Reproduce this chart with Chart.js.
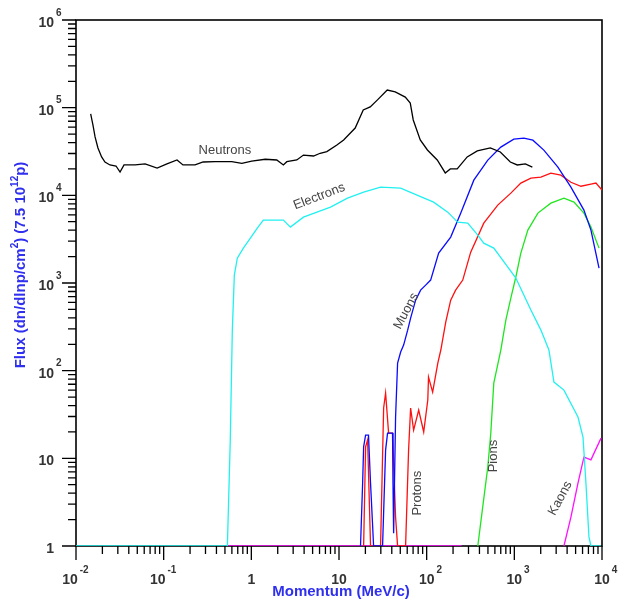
<!DOCTYPE html>
<html>
<head>
<meta charset="utf-8">
<script src="https://cdn.jsdelivr.net/npm/chart.js@4/dist/chart.umd.min.js"></script>
<style>
  body { margin: 0; background: #fff; }
</style>
</head>
<body>
<canvas id="myChart" width="624" height="608"></canvas>
<script>
// momentum in MeV/c, flux per 7.5e12 protons
var neutronP = [0.0147, 0.0156, 0.0165, 0.0178, 0.0196, 0.0214, 0.0244, 0.0286, 0.0318, 0.0353, 0.0472, 0.0614, 0.0842, 0.109, 0.142, 0.166, 0.228, 0.282, 0.386, 0.598, 0.779, 1.01, 1.44, 1.95, 2.32, 2.54, 3.30, 3.93, 5.12, 6.10, 7.27, 9.46, 11.3, 13.4, 15.3, 18.9, 22.7, 27.3, 35.5, 43.8, 57.0, 65.0, 70.3, 84.5, 102, 132, 163, 186, 223, 290, 378, 532, 692, 900, 1080, 1335, 1605];
var neutronFlux = [84800, 63500, 46400, 34700, 27400, 24000, 22200, 21600, 18400, 22200, 22200, 22800, 20500, 22800, 25300, 22200, 22200, 24000, 24200, 24200, 23200, 24600, 25800, 25300, 22200, 24200, 25300, 28800, 28100, 30200, 31500, 37500, 42800, 51000, 58600, 94200, 102000, 122000, 159000, 151000, 132000, 113000, 72400, 42800, 32900, 25300, 18000, 20000, 20000, 27400, 32100, 34700, 31200, 24000, 22200, 22800, 21000];

var electronP = [0.01, 0.533, 0.575, 0.607, 0.64, 0.692, 0.811, 0.975, 1.17, 1.37, 2.32, 2.79, 3.93, 8.0, 12.5, 19.1, 29.8, 50.5, 78.9, 120, 174, 226, 294, 383, 448, 583, 843, 1040, 1545, 2010, 2480, 2830, 3680, 5320, 6070, 6560, 7100, 7480, 9700];
var electronFlux = [1, 1, 16, 290, 1230, 1920, 2500, 3250, 4230, 5210, 5210, 4340, 5640, 7330, 9290, 10900, 12400, 12100, 10000, 8360, 6430, 4940, 4820, 3520, 2850, 2500, 1520, 1140, 491, 290, 172, 74, 60, 29.6, 17.5, 5.2, 1.27, 1, 1];

var muonP = [17.6, 18.6, 19.1, 20.1, 21.7, 22.9, 24.1, 24.8, 31.4, 34, 35.8, 40.8, 41.3, 42, 44.2, 46.6, 50.5, 54.6, 60.7, 65.6, 74.8, 85.3, 97.4, 111, 137, 188, 245, 345, 498, 701, 986, 1285, 1627, 2170, 3140, 4420, 6220, 7480, 9250];
var muonFlux = [1, 5.2, 13.5, 18.4, 18.4, 5.2, 1.83, 1, 1, 12.4, 19.4, 19.4, 5.2, 1.4, 29.6, 122, 163, 196, 290, 398, 638, 830, 946, 1080, 2190, 3340, 6270, 14900, 25200, 35500, 43800, 44900, 42600, 32800, 21000, 12400, 6780, 4010, 1480];

var protonP = [19.1, 20.1, 21.2, 22.9, 29.8, 32.3, 34, 36.8, 40.8, 44.2, 46.6, 57.5, 62.2, 65.6, 71, 81.1, 92.5, 103, 105, 117, 134, 145, 165, 188, 214, 258, 318, 448, 647, 912, 1186, 1545, 2010, 2610, 3400, 4420, 5750, 7480, 8530, 10000];
var protonFlux = [1, 13.5, 16.2, 1, 1, 37.5, 55.6, 19.4, 19.4, 2.14, 1, 1, 12.4, 37.5, 21, 35.6, 20, 46.2, 84.5, 57, 122, 172, 358, 638, 830, 1080, 2250, 4820, 7730, 10600, 13800, 15700, 16100, 17900, 17000, 14100, 12700, 13400, 13800, 11500];

var pionP = [383, 436, 498, 539, 583, 701, 800, 912, 1040, 1186, 1426, 1857, 2610, 3680, 4790, 6220, 7480, 9250];
var pionFlux = [1, 2.79, 7.96, 19.4, 72.2, 172, 378, 673, 1170, 2190, 4010, 6270, 8150, 9290, 8360, 6270, 4340, 2500];

var kaonP = [0.533, 251, 300, 3680, 4420, 5320, 6220, 7480, 9750];
var kaonFlux = [1, 1, null, 1, 2.14, 5.2, 10.3, 9.6, 17];

var xDecades = [-2, -1, 0, 1, 2, 3, 4];
var yDecades = [0, 1, 2, 3, 4, 5, 6];

var curveNames = ["Neutrons", "Electrons", "Muons", "Protons", "Pions", "Kaons"];
// where each curve name sits, in data units, and its tilt
var nameSpots = [
    { p: 0.5, flux: 32900, angle: 0 },
    { p: 5.94, flux: 9690, angle: -21 },
    { p: 58.5, flux: 478, angle: -62 },
    { p: 79, flux: 4.0, angle: -90 },
    { p: 584, flux: 10.6, angle: -90 },
    { p: 3350, flux: 3.5, angle: -62 }
];

function pairs(xs, ys) {
    return xs.map(function (x, i) { return { x: x, y: ys[i] }; });
}

function line(label, xs, ys, color) {
    return {
        label: label,
        data: pairs(xs, ys),
        borderColor: color,
        borderWidth: 1.3,
        pointRadius: 0,
        tension: 0,
        spanGaps: false
    };
}

var FONT = "'Liberation Sans', Arial, sans-serif";

// draws "10" with a raised exponent
function powerLabel(ctx, e, x, y, vertical) {
    ctx.fillStyle = '#333';
    ctx.textBaseline = 'middle';
    if (e === 0 || e === 1) {
        ctx.font = 'bold 14px ' + FONT;
        ctx.textAlign = vertical ? 'right' : 'center';
        ctx.fillText(e === 0 ? '1' : '10', x, y);
        return;
    }
    ctx.font = 'bold 14px ' + FONT;
    var w = ctx.measureText('10').width;
    var left = vertical ? x - w : x - w / 2 - (e < 0 ? 6 : 0);
    ctx.textAlign = 'left';
    ctx.fillText('10', left, y);
    ctx.font = 'bold 10px ' + FONT;
    ctx.fillText(String(e), left + w + 2, y - 10);
}

var axisPlugin = {
    id: 'axisPlugin',
    beforeDatasetsDraw: function (chart) {
        var ctx = chart.ctx, a = chart.chartArea;
        var xs = chart.scales.x, ys = chart.scales.y;
        ctx.save();
        ctx.strokeStyle = '#000';
        ctx.lineWidth = 1.6;
        ctx.strokeRect(a.left, a.top, a.right - a.left, a.bottom - a.top);
        ctx.lineWidth = 1.3;
        ctx.beginPath();
        xDecades.forEach(function (e) {
            var px = xs.getPixelForValue(Math.pow(10, e));
            ctx.moveTo(px, a.bottom); ctx.lineTo(px, a.bottom + 14);
            if (e < 4) {
                for (var m = 2; m <= 9; m++) {
                    var mx = xs.getPixelForValue(m * Math.pow(10, e));
                    ctx.moveTo(mx, a.bottom); ctx.lineTo(mx, a.bottom + 8);
                }
            }
        });
        yDecades.forEach(function (e) {
            var py = ys.getPixelForValue(Math.pow(10, e));
            ctx.moveTo(a.left, py); ctx.lineTo(a.left - 14, py);
            if (e < 6) {
                for (var m = 2; m <= 9; m++) {
                    var my = ys.getPixelForValue(m * Math.pow(10, e));
                    ctx.moveTo(a.left, my); ctx.lineTo(a.left - 8, my);
                }
            }
        });
        ctx.stroke();
        ctx.restore();
    },
    afterDraw: function (chart) {
        var ctx = chart.ctx, a = chart.chartArea;
        var xs = chart.scales.x, ys = chart.scales.y;
        ctx.save();
        xDecades.forEach(function (e) {
            powerLabel(ctx, e, xs.getPixelForValue(Math.pow(10, e)), a.bottom + 34, false);
        });
        yDecades.forEach(function (e) {
            powerLabel(ctx, e, 54, ys.getPixelForValue(Math.pow(10, e)) + 3, true);
        });

        // axis titles
        ctx.fillStyle = '#2f2ff0';
        ctx.font = 'bold 15px ' + FONT;
        ctx.textAlign = 'center';
        ctx.textBaseline = 'middle';
        ctx.fillText('Momentum (MeV/c)', (a.left + a.right) / 2 + 2, a.bottom + 46);

        var parts = [['Flux (dn/dlnp/cm', false], ['2', true], [') (7.5 10', false], ['12', true], ['p)', false]];
        var total = 0;
        parts.forEach(function (p) {
            ctx.font = (p[1] ? 'bold 10px ' : 'bold 15px ') + FONT;
            total += ctx.measureText(p[0]).width;
        });
        ctx.translate(21, 265);
        ctx.rotate(-Math.PI / 2);
        ctx.textAlign = 'left';
        var cx = -total / 2;
        parts.forEach(function (p) {
            ctx.font = (p[1] ? 'bold 10px ' : 'bold 15px ') + FONT;
            ctx.fillText(p[0], cx, p[1] ? -6 : 0);
            cx += ctx.measureText(p[0]).width;
        });
        ctx.restore();

        // curve names
        ctx.save();
        ctx.fillStyle = '#444';
        ctx.font = '13px ' + FONT;
        ctx.textAlign = 'center';
        ctx.textBaseline = 'middle';
        curveNames.forEach(function (name, i) {
            var s = nameSpots[i];
            ctx.save();
            ctx.translate(xs.getPixelForValue(s.p), ys.getPixelForValue(s.flux));
            ctx.rotate(s.angle * Math.PI / 180);
            ctx.fillText(name, 0, 0);
            ctx.restore();
        });
        ctx.restore();
    }
};

var ctx = document.getElementById('myChart').getContext('2d');
var myChart = new Chart(ctx, {
    type: 'line',
    data: {
        datasets: [
            line(curveNames[0], neutronP, neutronFlux, '#000000'),
            line(curveNames[1], electronP, electronFlux, '#22f0f0'),
            line(curveNames[2], muonP, muonFlux, '#0a0aff'),
            line(curveNames[3], protonP, protonFlux, '#ff1010'),
            line(curveNames[4], pionP, pionFlux, '#1ee61e'),
            line(curveNames[5], kaonP, kaonFlux, '#ff10ff')
        ]
    },
    options: {
        responsive: false,
        animation: false,
        layout: { padding: { top: 20, right: 22, left: 0, bottom: 0 } },
        scales: {
            x: {
                type: 'logarithmic',
                min: 0.01,
                max: 10000,
                grid: { display: false },
                border: { display: false },
                ticks: { display: false },
                afterFit: function (s) { s.height = 62; }
            },
            y: {
                type: 'logarithmic',
                min: 1,
                max: 1000000,
                grid: { display: false },
                border: { display: false },
                ticks: { display: false },
                afterFit: function (s) { s.width = 76; }
            }
        },
        plugins: {
            legend: { display: false },
            tooltip: { enabled: false }
        }
    },
    plugins: [axisPlugin]
});
</script>
</body>
</html>
